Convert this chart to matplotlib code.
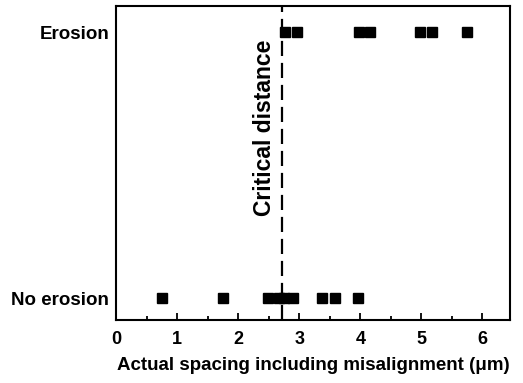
import matplotlib
matplotlib.use("Agg")
import matplotlib.pyplot as plt
from matplotlib.ticker import MultipleLocator

plt.rcParams["font.family"] = ["Liberation Sans", "DejaVu Sans"]
plt.rcParams["font.weight"] = "bold"

# spacing values (um)
erosion_x = [2.77, 2.96, 3.98, 4.16, 4.98, 5.17, 5.74]
no_erosion_x = [0.75, 1.75, 2.49, 2.67, 2.75, 2.90, 3.37, 3.58, 3.96]
critical_x = 2.72
y_labels = ["No erosion", "Erosion"]

fig = plt.figure(figsize=(5.23, 3.83), dpi=100)
ax = fig.add_axes([0.222, 0.164, 0.753, 0.820])

ax.plot(erosion_x, [1] * len(erosion_x), "ks", ms=6.5, ls="none")
ax.plot(no_erosion_x, [0] * len(no_erosion_x), "ks", ms=6.5, ls="none")
ax.axvline(critical_x, color="black", lw=1.6, ls=(0, (6.8, 3.1)))

ax.text(critical_x - 0.29, 0.64, "Critical distance", rotation=90,
        fontsize=16.5, fontweight="bold", ha="center", va="center")

ax.set_xlim(0, 6.45)
ax.set_ylim(-0.083, 1.098)
ax.xaxis.set_major_locator(MultipleLocator(1))
ax.xaxis.set_minor_locator(MultipleLocator(0.5))
ax.tick_params(axis="x", which="major", direction="in", length=5, width=1.3,
               labelsize=13, pad=8)
ax.tick_params(axis="x", which="minor", direction="in", length=3, width=1.3)
ax.set_yticks([0, 1])
ax.set_yticklabels(y_labels, fontsize=13.5, fontweight="bold")
ax.tick_params(axis="y", length=0, pad=5)
for lab in ax.get_xticklabels():
    lab.set_fontweight("bold")

ax.set_xlabel("Actual spacing including misalignment (\u03bcm)",
              fontsize=13.5, fontweight="bold", labelpad=6)
for s in ax.spines.values():
    s.set_linewidth(1.5)

fig.savefig("out.png", dpi=100)
